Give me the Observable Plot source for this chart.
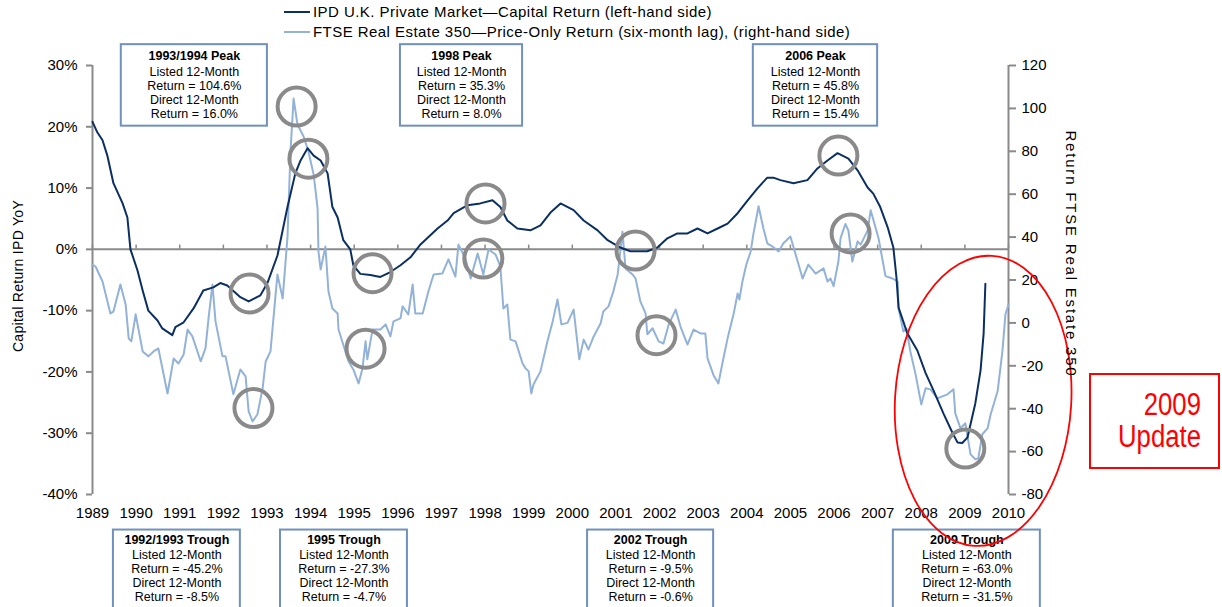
<!DOCTYPE html>
<html><head><meta charset="utf-8">
<script src="https://cdn.jsdelivr.net/npm/d3@7"></script>
<script src="https://cdn.jsdelivr.net/npm/@observablehq/plot@0.6"></script>
<style>
html,body{margin:0;padding:0;background:#fff;}
#wrap{position:relative;width:1222px;height:607px;overflow:hidden;font-family:"Liberation Sans",Arial,sans-serif;color:#000;}
.abs{position:absolute;white-space:nowrap;}
.leg{position:absolute;left:284px;font-size:15px;letter-spacing:0.45px;line-height:20px;display:flex;align-items:center;}
.sw{display:inline-block;width:26px;height:2px;margin-right:3px;}
.nar{display:inline-block;transform:scaleX(0.83);transform-origin:100% 50%;}
</style>
</head><body><div id="wrap"></div>
<script>
// ---------- DATA ----------
const ipdSeries = [[1989.00,20.8],[1989.11,19.1],[1989.23,17.8],[1989.34,15.3],[1989.48,10.8],[1989.69,7.5],[1989.80,5.2],[1989.87,0],[1990.03,-3.4],[1990.15,-6.7],[1990.28,-10],[1990.49,-11.6],[1990.60,-12.9],[1990.83,-14],[1990.90,-12.7],[1991.09,-11.9],[1991.32,-9.6],[1991.54,-6.7],[1991.77,-6.2],[1991.93,-5.5],[1992.09,-5.9],[1992.39,-7.8],[1992.58,-8.5],[1992.85,-7.5],[1993.01,-5.5],[1993.24,-1.0],[1993.47,6.9],[1993.65,12.4],[1993.77,14.5],[1993.93,16.5],[1994.07,15.3],[1994.23,14.5],[1994.39,12.4],[1994.50,6.9],[1994.62,5.2],[1994.75,1.5],[1994.91,0],[1994.98,-2.6],[1995.14,-4],[1995.37,-4.2],[1995.60,-4.5],[1995.83,-3.7],[1996.06,-2.6],[1996.29,-1.3],[1996.52,0.8],[1996.91,3.4],[1997.14,4.7],[1997.28,5.9],[1997.60,7.2],[1997.89,7.5],[1998.17,8.0],[1998.35,6.9],[1998.51,4.7],[1998.74,3.4],[1999.04,3.1],[1999.27,3.9],[1999.50,6.0],[1999.73,7.5],[2000.03,6.4],[2000.26,4.7],[2000.58,3.1],[2000.81,1.5],[2001.10,0.3],[2001.33,-0.3],[2001.72,-0.3],[2001.95,0.3],[2002.18,1.8],[2002.41,2.6],[2002.64,2.6],[2002.87,3.4],[2003.10,2.6],[2003.33,3.4],[2003.56,4.2],[2003.79,5.9],[2004.02,8.0],[2004.25,10.0],[2004.47,11.7],[2004.61,11.7],[2004.77,11.3],[2005.07,10.8],[2005.39,11.3],[2005.62,13.2],[2005.85,14.5],[2006.08,15.7],[2006.33,14.8],[2006.54,12.9],[2006.77,10.1],[2006.90,9.1],[2007.06,6.9],[2007.23,3.6],[2007.36,0.3],[2007.43,-4.5],[2007.48,-9.5],[2007.68,-13.7],[2007.91,-16.5],[2008.10,-20.2],[2008.28,-23],[2008.51,-26.8],[2008.72,-30],[2008.83,-31.5],[2008.94,-31.6],[2009.06,-30.7],[2009.24,-25.1],[2009.36,-19.7],[2009.43,-13.7],[2009.47,-5.6]];

// FTSE Real Estate 350 (right-hand axis units)
const ftseSeries = [[1989.00,27.2],[1989.07,26.3],[1989.23,19.3],[1989.41,4.4],[1989.48,5.3],[1989.64,17.9],[1989.76,8.6],[1989.83,-7.2],[1989.89,-8.6],[1989.99,4],[1990.15,-13.3],[1990.28,-15.6],[1990.40,-13.3],[1990.51,-11.9],[1990.72,-32.9],[1990.86,-16.6],[1990.97,-18.9],[1991.09,-14.7],[1991.18,-3.1],[1991.29,-6.3],[1991.48,-17.9],[1991.59,-11.9],[1991.66,2.1],[1991.75,17.9],[1991.82,0.7],[1991.98,-15.6],[1992.05,-15.6],[1992.23,-33.3],[1992.39,-21.7],[1992.51,-24.9],[1992.58,-41.3],[1992.67,-45.9],[1992.78,-42.7],[1992.90,-30.5],[1992.97,-18],[1993.08,-13.3],[1993.24,22.6],[1993.36,11.4],[1993.47,40],[1993.54,80],[1993.61,104.6],[1993.70,92.5],[1993.84,86.9],[1993.95,79.9],[1994.07,69.2],[1994.16,53.4],[1994.18,33.3],[1994.23,24.9],[1994.34,35.6],[1994.41,14.6],[1994.50,6.7],[1994.62,4.4],[1994.64,-3.1],[1994.87,-18],[1994.98,-21.7],[1995.10,-28.2],[1995.19,-21.2],[1995.26,-8.6],[1995.30,-17],[1995.42,-3.1],[1995.60,-3.1],[1995.72,-0.7],[1995.83,-6.3],[1995.90,0.7],[1996.06,2.1],[1996.11,7.7],[1996.24,3.9],[1996.34,17.9],[1996.40,4.4],[1996.57,4.4],[1996.70,14.6],[1996.82,22.6],[1997.02,23],[1997.16,29.6],[1997.32,21.6],[1997.39,36.5],[1997.55,30],[1997.67,20.7],[1997.83,32.4],[1997.96,22.6],[1998.08,34.2],[1998.24,31.9],[1998.35,26.3],[1998.42,6.7],[1998.51,8.6],[1998.58,-7.8],[1998.70,-8.6],[1998.86,-18.9],[1998.93,-21.2],[1999.00,-22.6],[1999.06,-32.9],[1999.11,-28.7],[1999.27,-22.6],[1999.43,-8.6],[1999.55,0.7],[1999.66,10.9],[1999.75,-0.7],[1999.89,0],[2000.03,6.2],[2000.16,-17],[2000.26,-7.8],[2000.37,-12.4],[2000.49,-6.3],[2000.65,-0.2],[2000.71,5.3],[2000.83,7.7],[2000.94,14.6],[2001.04,22.6],[2001.10,33.3],[2001.15,42.5],[2001.22,25.4],[2001.38,22.6],[2001.45,20.7],[2001.56,10],[2001.68,4.4],[2001.72,-5.3],[2001.84,-2.5],[2001.98,-8.6],[2002.09,-9.6],[2002.21,-0.7],[2002.37,6.2],[2002.48,-1.7],[2002.64,-10.1],[2002.78,-3.1],[2002.94,-4.9],[2003.05,-4.9],[2003.10,-16.5],[2003.24,-24.5],[2003.35,-28.2],[2003.44,-18.9],[2003.56,-7.2],[2003.70,4.4],[2003.79,13.7],[2003.83,10.9],[2003.90,19.3],[2003.99,27.2],[2004.09,33.3],[2004.15,41.3],[2004.27,54.4],[2004.38,44.1],[2004.47,37.1],[2004.59,35.6],[2004.73,33.3],[2004.84,37.1],[2005.00,40.3],[2005.12,31.9],[2005.28,20.7],[2005.41,27.2],[2005.58,23],[2005.76,25.4],[2005.85,19.3],[2005.92,20.7],[2005.99,17.1],[2006.10,28.6],[2006.15,39.5],[2006.26,46.1],[2006.33,43],[2006.42,28.6],[2006.54,38],[2006.61,36.5],[2006.77,43],[2006.84,52.5],[2006.95,44.6],[2007.02,39.5],[2007.18,21.8],[2007.34,20.7],[2007.46,19.3],[2007.48,6.7],[2007.59,-4],[2007.66,-2.6],[2007.75,-13.3],[2007.87,-24],[2008.00,-38],[2008.10,-30.5],[2008.21,-31],[2008.37,-35.2],[2008.60,-33.3],[2008.74,-31],[2008.78,-42.2],[2008.90,-49.2],[2009.01,-46.8],[2009.13,-61.3],[2009.24,-63.6],[2009.31,-63],[2009.40,-51.9],[2009.52,-49.2],[2009.59,-42.7],[2009.75,-31.9],[2009.86,-13.3],[2009.93,4],[2010.00,8.6]];

const yearTicks = d3.range(1989, 2011);
const leftTicks = [-40, -30, -20, -10, 0, 10, 20, 30];
const rightTicks = [-80, -60, -40, -20, 0, 20, 40, 60, 80, 100, 120];

const legendLabels = ["IPD U.K. Private Market\u2014Capital Return (left-hand side)",
  "FTSE Real Estate 350\u2014Price-Only Return (six-month lag), (right-hand side)"];
const seriesColors = ["#0c2f62", "#93b2d8"];

// highlighted turning points [year, IPD-scale value]
const circleMarks = [[1993.68,23.3],[1993.95,14.8],[1992.60,-7.2],[1992.69,-25.9],[1995.42,-3.9],[1995.26,-16.2],[1998.01,7.5],[1997.96,-1.5],[2001.45,-0.2],[2001.93,-14.0],[2006.10,15.3],[2006.38,2.6],[2009.01,-32.5]];

const topBoxes = [
  {title:"1993/1994 Peak", body:"Listed 12-Month\nReturn = 104.6%\nDirect 12-Month\nReturn = 16.0%", x1:1989.66, x2:1993.01},
  {title:"1998 Peak", body:"Listed 12-Month\nReturn = 35.3%\nDirect 12-Month\nReturn = 8.0%", x1:1996.06, x2:1998.86},
  {title:"2006 Peak", body:"Listed 12-Month\nReturn = 45.8%\nDirect 12-Month\nReturn = 15.4%", x1:2004.15, x2:2007.00}
];
const bottomBoxes = [
  {title:"1992/1993 Trough", body:"Listed 12-Month\nReturn = -45.2%\nDirect 12-Month\nReturn = -8.5%", x1:1989.48, x2:1992.39},
  {title:"1995 Trough", body:"Listed 12-Month\nReturn = -27.3%\nDirect 12-Month\nReturn = -4.7%", x1:1993.31, x2:1996.22},
  {title:"2002 Trough", body:"Listed 12-Month\nReturn = -9.5%\nDirect 12-Month\nReturn = -0.6%", x1:2000.35, x2:2003.24},
  {title:"2009 Trough", body:"Listed 12-Month\nReturn = -63.0%\nDirect 12-Month\nReturn = -31.5%", x1:2007.36, x2:2010.73}
];
const updateLabel = ["2009", "Update"];

// ---------- helpers ----------
const toLeft = v => -40 + (v + 80) * 70 / 200;     // right-axis units -> left-axis units
const fromLeft = p => (p + 40) * 200 / 70 - 80;
const ftseLeft = ftseSeries.map(([t, v]) => [t, toLeft(v)]);
const gray = "#8a8a8a";
const boxStroke = "#7090bd";

const boxMarks = (boxes, yTop, yBot, yTitle, yBody) => [
  Plot.rect(boxes, {x1:"x1", x2:"x2", y1:yBot, y2:yTop, fill:"white", stroke:boxStroke, strokeWidth:2}),
  Plot.text(boxes, {x:d => (d.x1 + d.x2) / 2, y:yTitle, text:"title", fontWeight:"bold", fontSize:12.5, lineAnchor:"top"}),
  Plot.text(boxes, {x:d => (d.x1 + d.x2) / 2, y:yBody, text:"body", fontSize:12.5, lineHeight:1.13, lineAnchor:"top"})
];

const plot = Plot.plot({
  width:1222, height:607,
  marginLeft:92, marginRight:214, marginTop:65, marginBottom:113,
  x:{domain:[1989, 2010], label:null},
  y:{domain:[-40, 30], label:null},
  style:{fontFamily:"'Liberation Sans', Arial, sans-serif", fontSize:"15px", background:"transparent", overflow:"visible"},
  marks:[
    Plot.ruleY([0], {x1:1989, x2:2010, stroke:gray, strokeWidth:2}),
    Plot.ruleX(yearTicks, {x:d => d, y1:0, y2:0.7, stroke:gray, strokeWidth:1.5}),
    Plot.ruleX([1989], {y1:-40, y2:30, stroke:gray, strokeWidth:2}),
    Plot.ruleX([2010], {y1:-40, y2:30, stroke:gray, strokeWidth:2}),
    Plot.axisY({anchor:"left", ticks:leftTicks, tickFormat:d => d + "%", tickSize:6, tickPadding:9, stroke:gray, strokeWidth:2, fill:"#000", label:null}),
    Plot.axisY({anchor:"right", ticks:rightTicks.map(toLeft), tickFormat:d => String(Math.round(fromLeft(d))), tickSize:7, tickPadding:6, stroke:gray, strokeWidth:2, fill:"#000", label:null}),
    Plot.axisX({anchor:"bottom", ticks:yearTicks, tickFormat:d => String(d), tickSize:0, tickPadding:13, fill:"#000", label:null}),
    Plot.line(ftseLeft, {x:d => d[0], y:d => d[1], stroke:seriesColors[1], strokeWidth:2}),
    Plot.line(ipdSeries, {x:d => d[0], y:d => d[1], stroke:seriesColors[0], strokeWidth:2}),
    Plot.dot(circleMarks, {x:d => d[0], y:d => d[1], r:19, stroke:gray, strokeWidth:4, fill:"none"}),
    ...boxMarks(topBoxes, 33.4, 20.1, 32.4, 30.0),
    ...boxMarks(bottomBoxes, -45.8, -60, -46.6, -48.9)
  ]
});

const wrap = document.getElementById("wrap");
plot.style.position = "absolute";
plot.style.left = "0px";
plot.style.top = "0px";
wrap.appendChild(plot);

// red ellipse around 2009 (centre and radii in data units)
const ellipseSpec = {year:2009.43, value:-24.8, rYears:2.02, rValue:23.7, tilt:3.5};
{
  const sx = plot.scale("x"), sy = plot.scale("y");
  const cx = sx.apply(ellipseSpec.year), cy = sy.apply(ellipseSpec.value);
  const rx = sx.apply(ellipseSpec.year + ellipseSpec.rYears) - cx;
  const ry = sy.apply(ellipseSpec.value - ellipseSpec.rValue) - cy;
  d3.select(plot).append("ellipse")
    .attr("cx", cx).attr("cy", cy).attr("rx", rx).attr("ry", ry)
    .attr("transform", `rotate(${ellipseSpec.tilt},${cx},${cy})`)
    .attr("fill", "none").attr("stroke", "#ff0000").attr("stroke-width", 1.8);
}

// legend
legendLabels.forEach((lab, i) => {
  const row = document.createElement("div");
  row.className = "leg";
  row.style.top = (2 + i * 20) + "px";
  row.innerHTML = `<span class="sw" style="background:${seriesColors[i]}"></span><span>${lab}</span>`;
  wrap.appendChild(row);
});

// axis titles
const lt = document.createElement("div");
lt.className = "abs";
lt.textContent = "Capital Return IPD YoY";
lt.style.cssText += "left:18px;top:276px;font-size:14px;letter-spacing:0.3px;transform:translate(-50%,-50%) rotate(-90deg);";
wrap.appendChild(lt);

const rt = document.createElement("div");
rt.className = "abs";
rt.textContent = "Return FTSE Real Estate 350";
rt.style.cssText += "left:1071px;top:254px;font-size:15px;letter-spacing:1.8px;transform:translate(-50%,-50%) rotate(90deg);";
wrap.appendChild(rt);

// 2009 update box
const ub = document.createElement("div");
ub.className = "abs";
ub.style.cssText += "left:1089px;top:373px;width:131px;height:96px;border:2px solid #ff0000;color:#ff0000;text-align:right;font-size:31px;line-height:32px;padding-top:14px;box-sizing:border-box;padding-right:17px;";
ub.innerHTML = updateLabel.map(s => `<span class="nar">${s}</span>`).join("<br>");
wrap.appendChild(ub);
</script></body></html>
